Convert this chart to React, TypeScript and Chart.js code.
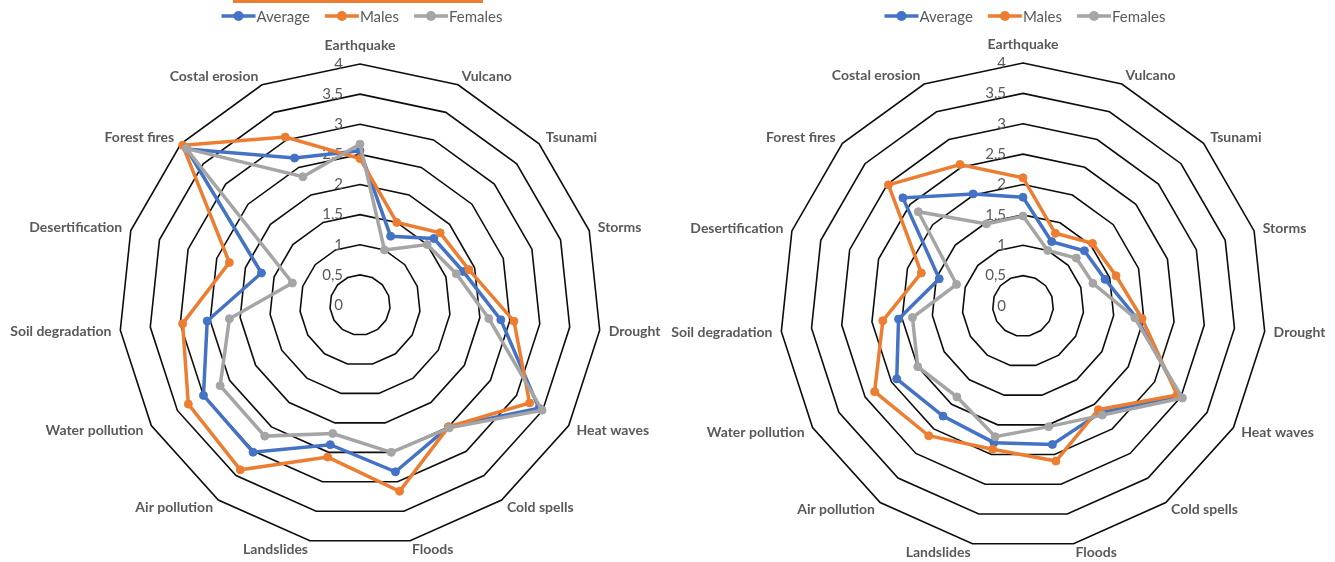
import React, { useEffect, useRef } from 'react';
import { Chart, registerables } from 'chart.js';

Chart.register(...registerables);

// ---- data ----
const categories = [
  'Earthquake', 'Vulcano', 'Tsunami', 'Storms', 'Drought', 'Heat waves', 'Cold spells',
  'Floods', 'Landslides', 'Air pollution', 'Water pollution', 'Soil degradation',
  'Desertification', 'Forest fires', 'Costal erosion',
];
const seriesNames = ['Average', 'Males', 'Females'];
const seriesColors = ['#4472C4', '#ED7D31', '#A5A5A5'];
const tickValues = [0, 0.5, 1, 1.5, 2, 2.5, 3, 3.5, 4];
const tickLabels = ['0', '0,5', '1', '1,5', '2', '2,5', '3', '3,5', '4'];

const leftAverage = [2.56, 1.25, 1.65, 1.80, 2.35, 3.43, 2.50, 2.83, 2.37, 3.02, 3.00, 2.55, 1.72, 3.87, 2.67];
const leftMales = [2.43, 1.50, 1.79, 1.90, 2.57, 3.25, 2.50, 3.16, 2.58, 3.38, 3.29, 2.96, 2.28, 3.96, 3.05];
const leftFemales = [2.67, 1.00, 1.50, 1.68, 2.15, 3.49, 2.52, 2.50, 2.18, 2.69, 2.68, 2.18, 1.18, 3.88, 2.33];

const rightAverage = [1.79, 1.16, 1.36, 1.42, 1.88, 2.98, 2.17, 2.33, 2.30, 2.24, 2.40, 2.06, 1.45, 2.66, 2.02];
const rightMales = [2.11, 1.31, 1.54, 1.61, 1.97, 2.93, 2.11, 2.61, 2.41, 2.64, 2.82, 2.32, 1.76, 2.98, 2.55];
const rightFemales = [1.48, 1.00, 1.18, 1.21, 1.85, 3.03, 2.22, 2.03, 2.20, 1.85, 2.00, 1.83, 1.15, 2.32, 1.48];

const FONT = 'Lato, "Open Sans", "DejaVu Sans", sans-serif';
const TEXT = '#595959';

const labelsPlugin = {
  id: 'excelLabels',
  beforeDatasetsDraw(chart: any) {
    const scale = chart.scales.r;
    const ctx = chart.ctx;
    ctx.save();
    ctx.font = `15px ${FONT}`;
    ctx.fillStyle = TEXT;
    ctx.textAlign = 'right';
    ctx.textBaseline = 'middle';
    scale.ticks.forEach((t: any) => {
      const idx = tickValues.indexOf(t.value);
      const txt = idx >= 0 ? tickLabels[idx] : String(t.value);
      const d = scale.getDistanceFromCenterForValue(t.value);
      ctx.fillText(txt, scale.xCenter - 17, scale.yCenter - d);
    });
    ctx.restore();
  },
  afterDraw(chart: any) {
    const scale = chart.scales.r;
    const ctx = chart.ctx;
    ctx.save();
    // point labels
    ctx.font = `bold 14px ${FONT}`;
    ctx.fillStyle = TEXT;
    ctx.textBaseline = 'middle';
    const n = chart.data.labels.length;
    chart.data.labels.forEach((lab: string, i: number) => {
      const deg = (i * 360) / n;
      const p = scale.getPointPosition(i, scale.drawingArea + 9);
      let y = p.y;
      if (deg === 0) {
        ctx.textAlign = 'center';
        y -= 10;
      } else if (deg < 180) {
        ctx.textAlign = 'left';
      } else {
        ctx.textAlign = 'right';
      }
      ctx.fillText(lab, p.x, y);
    });
    // legend
    ctx.font = `15px ${FONT}`;
    const lineLen = 34;
    const gap = 1;
    const itemGap = 15;
    const items = chart.data.datasets.map((ds: any) => ({
      label: ds.label,
      color: ds.borderColor,
      w: lineLen + gap + ctx.measureText(ds.label).width,
    }));
    const total = items.reduce((s: number, it: any) => s + it.w, 0) + itemGap * (items.length - 1);
    let x = scale.xCenter + 2 - total / 2;
    const y = 16;
    items.forEach((it: any) => {
      ctx.strokeStyle = it.color;
      ctx.lineWidth = 3.5;
      ctx.beginPath();
      ctx.moveTo(x, y);
      ctx.lineTo(x + lineLen, y);
      ctx.stroke();
      ctx.fillStyle = it.color;
      ctx.beginPath();
      ctx.arc(x + lineLen / 2, y, 5, 0, Math.PI * 2);
      ctx.fill();
      ctx.fillStyle = TEXT;
      ctx.textAlign = 'left';
      ctx.fillText(it.label, x + lineLen + gap, y + 1);
      x += it.w + itemGap;
    });
    ctx.restore();
  },
};

function RadarPanel(props: { series: number[][]; padding: any; left: number }) {
  const ref = useRef<HTMLCanvasElement | null>(null);
  useEffect(() => {
    if (!ref.current) return;
    const chart = new Chart(ref.current, {
      type: 'radar',
      data: {
        labels: categories,
        datasets: props.series.map((vals, i) => ({
          label: seriesNames[i],
          data: vals,
          borderColor: seriesColors[i],
          backgroundColor: seriesColors[i],
          pointBackgroundColor: seriesColors[i],
          pointBorderColor: seriesColors[i],
          borderWidth: 3.5,
          pointRadius: 4,
          pointBorderWidth: 1,
          fill: false,
          tension: 0,
          order: 3 - i,
        })),
      },
      options: {
        responsive: false,
        animation: false,
        devicePixelRatio: 1,
        layout: { padding: props.padding },
        plugins: { legend: { display: false }, tooltip: { enabled: false } },
        scales: {
          r: {
            min: 0,
            max: 4,
            ticks: { stepSize: 0.5, display: false, showLabelBackdrop: false },
            grid: { color: '#0d0d0d', lineWidth: 1.6, circular: false },
            angleLines: { display: false },
            pointLabels: { display: false },
          },
        },
      },
      plugins: [labelsPlugin],
    });
    return () => chart.destroy();
  }, []);
  return (
    <canvas
      ref={ref}
      width={667}
      height={562}
      style={{ position: 'absolute', left: props.left, top: 0, width: 667, height: 562 }}
    />
  );
}

export default function App() {
  return (
    <div style={{ position: 'absolute', left: 0, top: 0, width: 1335, height: 562, background: '#ffffff', overflow: 'hidden' }}>
      <div style={{ position: 'absolute', left: 233, top: 0, width: 250, height: 3, background: '#ED7D31' }} />
      <RadarPanel
        series={[leftAverage, leftMales, leftFemales]}
        padding={{ left: 119, right: 66, top: 64, bottom: 16 }}
        left={0}
      />
      <RadarPanel
        series={[rightAverage, rightMales, rightFemales]}
        padding={{ left: 113, right: 68, top: 63, bottom: 13 }}
        left={667}
      />
    </div>
  );
}
